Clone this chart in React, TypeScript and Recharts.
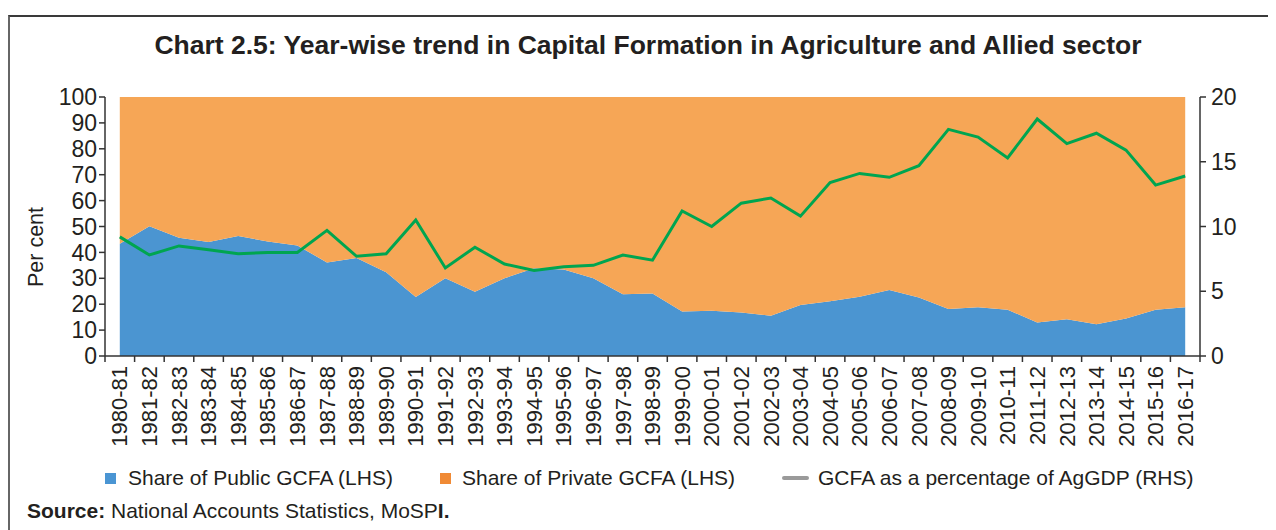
import React from "react";
import {
  ComposedChart,
  Area,
  Line,
  XAxis,
  YAxis,
} from "recharts";

const years = [
  "1980-81", "1981-82", "1982-83", "1983-84", "1984-85", "1985-86", "1986-87",
  "1987-88", "1988-89", "1989-90", "1990-91", "1991-92", "1992-93", "1993-94",
  "1994-95", "1995-96", "1996-97", "1997-98", "1998-99", "1999-00", "2000-01",
  "2001-02", "2002-03", "2003-04", "2004-05", "2005-06", "2006-07", "2007-08",
  "2008-09", "2009-10", "2010-11", "2011-12", "2012-13", "2013-14", "2014-15",
  "2015-16", "2016-17",
];

// share of public GCFA (LHS, per cent)
const publicShare = [
  43.3, 50.1, 45.7, 44.0, 46.3, 44.2, 42.7, 36.1, 37.8, 32.3, 22.8, 30.0, 24.8,
  30.0, 33.9, 33.4, 30.0, 23.8, 24.1, 17.2, 17.5, 16.8, 15.5, 19.7, 21.1, 22.9,
  25.5, 22.6, 18.1, 18.8, 17.9, 12.9, 14.2, 12.3, 14.5, 17.9, 18.8,
];

// share of private GCFA (LHS, per cent)
const privateShare = [
  56.7, 49.9, 54.3, 56.0, 53.7, 55.8, 57.3, 63.9, 62.2, 67.7, 77.2, 70.0, 75.2,
  70.0, 66.1, 66.6, 70.0, 76.2, 75.9, 82.8, 82.5, 83.2, 84.5, 80.3, 78.9, 77.1,
  74.5, 77.4, 81.9, 81.2, 82.1, 87.1, 85.8, 87.7, 85.5, 82.1, 81.2,
];

// GCFA as % of AgGDP (RHS)
const gcfaPct = [
  9.2, 7.8, 8.5, 8.2, 7.9, 8.0, 8.0, 9.7, 7.7, 7.9, 10.5, 6.8, 8.4, 7.1, 6.6,
  6.9, 7.0, 7.8, 7.4, 11.2, 10.0, 11.8, 12.2, 10.8, 13.4, 14.1, 13.8, 14.7,
  17.5, 16.9, 15.3, 18.3, 16.4, 17.2, 15.9, 13.2, 13.9,
];

const leftTicks = [0, 10, 20, 30, 40, 50, 60, 70, 80, 90, 100];
const rightTicks = [0, 5, 10, 15, 20];

const data = years.map((year, i) => ({
  year,
  pub: publicShare[i],
  priv: privateShare[i],
  gcfa: gcfaPct[i],
}));

const FONT = "'Liberation Sans', Arial, Helvetica, sans-serif";
const INK = "#231f20";
const AXIS = "#333";

const YearTick = (props: any) => {
  const { x, y, payload, index } = props;
  const off = payload?.offset ?? 1094.5 / 37 / 2;
  const last = index === years.length - 1;
  return (
    <g>
      <line x1={x - off} x2={x - off} y1={y - 8} y2={y - 2} stroke={AXIS} strokeWidth={1.5} />
      {last && (
        <line x1={x + off} x2={x + off} y1={y - 8} y2={y - 2} stroke={AXIS} strokeWidth={1.5} />
      )}
      <text
        x={x}
        y={y + 2}
        transform={`rotate(-90, ${x}, ${y + 2})`}
        textAnchor="end"
        dy="0.35em"
        fill={INK}
        fontSize={22}
        fontFamily={FONT}
      >
        {payload.value}
      </text>
    </g>
  );
};

const LegendSwatch = ({ color, left }: { color: string; left: number }) => (
  <div style={{ position: "absolute", left, top: 7, width: 11, height: 11, background: color }} />
);

export default function App() {
  return (
    <div style={{ position: "relative", width: 1268, height: 522, fontFamily: FONT, color: INK }}>
      {/* frame (top and left rules only) */}
      <div
        style={{
          position: "absolute",
          left: 0,
          top: 7,
          width: 1268,
          height: 515,
          borderTop: "2px solid #3a3a3a",
          borderLeft: "2px solid #666",
          boxSizing: "border-box",
        }}
      />

      <div
        style={{
          position: "absolute",
          left: 640,
          top: 22,
          transform: "translateX(-50%)",
          whiteSpace: "nowrap",
          fontSize: 26.5,
          fontWeight: 700,
          lineHeight: "30px",
        }}
      >
        Chart 2.5: Year-wise trend in Capital Formation in Agriculture and Allied sector
      </div>

      <div
        style={{
          position: "absolute",
          left: 28,
          top: 239,
          transform: "translate(-50%, -50%) rotate(-90deg)",
          whiteSpace: "nowrap",
          fontSize: 21.5,
          lineHeight: "24px",
        }}
      >
        Per cent
      </div>

      <div style={{ position: "absolute", left: 0, top: 0 }}>
        <ComposedChart
          width={1268}
          height={440}
          data={data}
          margin={{ top: 89, right: 0, bottom: 12, left: 0 }}
        >
          <XAxis
            xAxisId="cat"
            dataKey="year"
            scale="band"
            interval={0}
            height={80}
            tickSize={6}
            tickMargin={2}
            tickLine={false}
            axisLine={{ stroke: AXIS, strokeWidth: 1.5 }}
            tick={<YearTick />}
          />
          <YAxis
            yAxisId="left"
            orientation="left"
            width={97}
            domain={[0, 100]}
            ticks={leftTicks}
            interval={0}
            tickSize={6}
            tickMargin={2}
            axisLine={{ stroke: AXIS, strokeWidth: 1.5 }}
            tickLine={{ stroke: AXIS, strokeWidth: 1.5 }}
            tick={{ fill: INK, fontSize: 23, fontFamily: FONT }}
          />
          <YAxis
            yAxisId="right"
            orientation="right"
            width={76}
            domain={[0, 20]}
            ticks={rightTicks}
            interval={0}
            tickSize={6}
            tickMargin={5}
            axisLine={{ stroke: AXIS, strokeWidth: 1.5 }}
            tickLine={{ stroke: AXIS, strokeWidth: 1.5 }}
            tick={{ fill: INK, fontSize: 23, fontFamily: FONT }}
          />
          <Area
            xAxisId="cat"
            yAxisId="left"
            type="linear"
            dataKey="pub"
            stackId="share"
            stroke="none"
            fill="#4b95d1"
            fillOpacity={1}
            isAnimationActive={false}
          />
          <Area
            xAxisId="cat"
            yAxisId="left"
            type="linear"
            dataKey="priv"
            stackId="share"
            stroke="none"
            fill="#f6a656"
            fillOpacity={1}
            isAnimationActive={false}
          />
          <Line
            xAxisId="cat"
            yAxisId="right"
            type="linear"
            dataKey="gcfa"
            stroke="#00a550"
            strokeWidth={3}
            dot={false}
            activeDot={false}
            isAnimationActive={false}
          />
        </ComposedChart>
      </div>

      {/* legend */}
      <div style={{ position: "absolute", top: 458, left: 0, fontSize: 21, lineHeight: "24px", whiteSpace: "nowrap" }}>
        <LegendSwatch color="#4a95d3" left={97} />
        <div style={{ position: "absolute", left: 120, top: 0 }}>Share of Public GCFA (LHS)</div>
        <LegendSwatch color="#f08a35" left={432} />
        <div style={{ position: "absolute", left: 454, top: 0 }}>Share of Private GCFA (LHS)</div>
        <div
          style={{ position: "absolute", left: 774, top: 10, width: 27, height: 4, borderRadius: 2, background: "#9a9a9a" }}
        />
        <div style={{ position: "absolute", left: 810, top: 0 }}>GCFA as a percentage of AgGDP (RHS)</div>
      </div>

      <div style={{ position: "absolute", left: 19, top: 491, fontSize: 21, lineHeight: "24px", whiteSpace: "nowrap" }}>
        <b>Source:</b> National Accounts Statistics, MoSP<b>I.</b>
      </div>
    </div>
  );
}
